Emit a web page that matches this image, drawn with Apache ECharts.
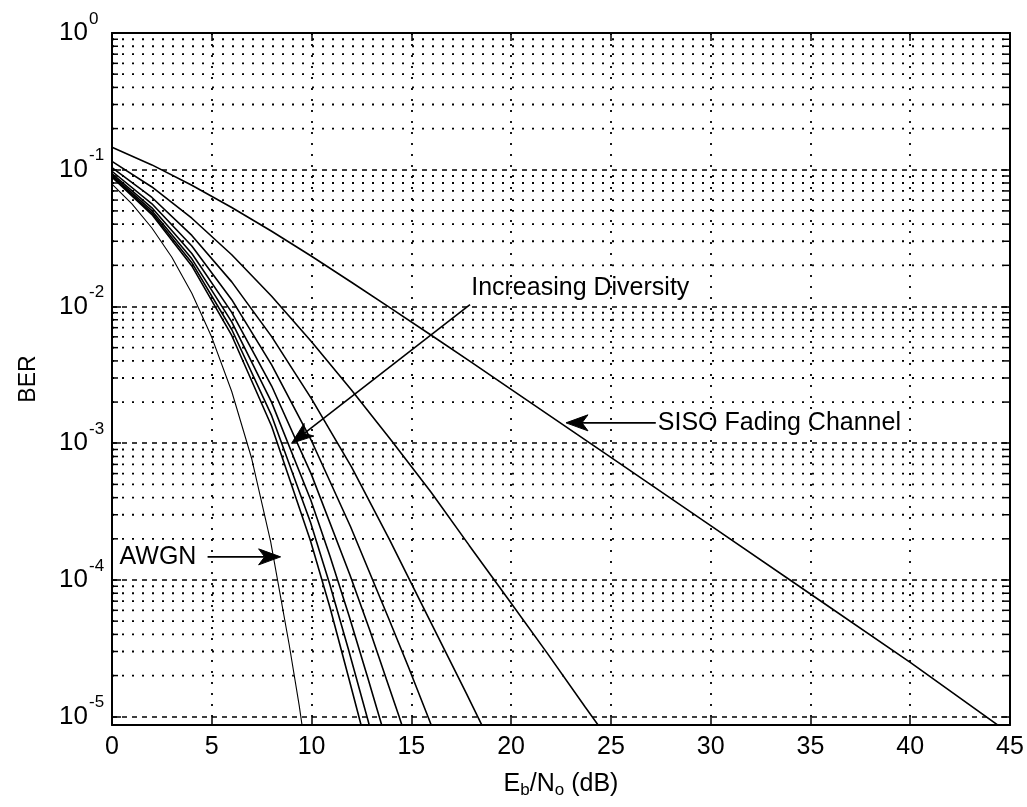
<!DOCTYPE html>
<html>
<head>
<meta charset="utf-8">
<script src="https://cdn.jsdelivr.net/npm/echarts@6/dist/echarts.min.js"></script>
<style>
html,body{margin:0;padding:0;background:#fff;}
#chart{width:1027px;height:807px;}
</style>
</head>
<body>
<div id="chart"></div>
<script>
// ---------- data ----------
const xTicks = [0, 5, 10, 15, 20, 25, 30, 35, 40, 45];
const yDecades = [1e-5, 1e-4, 1e-3, 1e-2, 1e-1, 1];
const yDecadeExp = ['-5', '-4', '-3', '-2', '-1', '0'];
const yMinorGrid = [
  2e-5,3e-5,4e-5,5e-5,6e-5,7e-5,8e-5,9e-5,
  2e-4,3e-4,4e-4,5e-4,6e-4,7e-4,8e-4,9e-4,
  2e-3,3e-3,4e-3,5e-3,6e-3,7e-3,8e-3,9e-3,
  2e-2,3e-2,4e-2,5e-2,6e-2,7e-2,8e-2,9e-2,
  0.2,0.3,0.4,0.5,0.6,0.7,0.8,0.9
];

const xSISO = [0,2,4,6,8,10,12,14,16,18,20,25,30,35,40,45];
const ySISO = [0.146,0.1085,0.0771,0.0530,0.0355,0.0233,0.01505,0.00966,0.00616,0.00392,0.00248,7.87e-4,2.50e-4,7.9e-5,2.5e-5,7.5e-6];

const xAWGN = [0,1,2,3,4,5,6,7,7.95,8.88,9.38,9.87];
const yAWGN = [0.0786,0.0563,0.0375,0.0229,0.0125,0.00595,0.00239,7.73e-4,1.91e-4,3.36e-5,1.21e-5,3.87e-6];

const xDiv2 = [0,2,4,6,8,10,12,14,16,17.9,19.85,21.8,23.72,24.7];
const yDiv2 = [0.1151,0.0748,0.0442,0.0239,0.01187,0.00553,0.00245,1.046e-3,4.36e-4,1.79e-4,7.26e-5,2.93e-5,1.173e-5,7.42e-6];

const xDiv3 = [0,2,4,6,8,10,12,13.9,15.8,17.75,18.72];
const yDiv3 = [0.1035,0.0627,0.0331,0.01514,0.00602,0.00211,6.72e-4,1.98e-4,5.52e-5,1.49e-5,7.64e-6];

const xDiv4 = [0,2,4,6,8,10,11.95,13.88,14.87,15.85,16.35];
const yDiv4 = [0.0975,0.0564,0.0277,0.01122,0.00374,1.039e-3,2.46e-4,5.16e-5,2.28e-5,9.87e-6,6.4e-6];

const xDiv5 = [0,2,4,6,8,9.98,11.92,12.9,13.87,14.37,14.87];
const yDiv5 = [0.0938,0.0527,0.0244,0.00905,0.00262,5.97e-4,1.092e-4,4.36e-5,1.67e-5,1.02e-5,6.1e-6];

const xDiv6 = [0,2,4,6,8,9.97,10.92,11.87,12.82,13.3,13.8];
const yDiv6 = [0.0914,0.0502,0.0223,0.00771,0.00199,3.81e-4,1.50e-4,5.53e-5,1.92e-5,1.11e-5,6.3e-6];

const xDiv7 = [0,2,4,6,8,9.95,10.9,11.85,12.82,13.32];
const yDiv7 = [0.0896,0.0484,0.0209,0.00679,0.00159,2.63e-4,9.41e-5,3.10e-5,9.5e-6,5.1e-6];

const xDiv8 = [0,2,4,6,8,9.95,10.92,11.88,12.38,12.88];
const yDiv8 = [0.0882,0.0470,0.0198,0.00614,0.00133,1.93e-4,6.31e-5,1.88e-5,9.92e-6,5.2e-6];

// annotation texts and their anchor points (data coordinates)
const annoTexts = ['Increasing Diversity', 'SISO Fading Channel', 'AWGN'];
const annoTextAt = [[18.0, 0.0137], [27.35, 1.41e-3], [0.38, 1.476e-4]];
const annoArrowFrom = [[17.94, 0.0103], [27.25, 1.41e-3], [4.79, 1.476e-4]];
const annoArrowTo = [[9.0, 1.0e-3], [22.75, 1.41e-3], [8.45, 1.476e-4]];

// ---------- chart ----------
const FONT = '"Liberation Sans", Arial, Helvetica, sans-serif';
const pairs = (xs, ys) => xs.map((x, i) => [x, ys[i]]);

const curves = [
  {name: 'SISO', x: xSISO, y: ySISO, w: 1.6},
  {name: 'AWGN', x: xAWGN, y: yAWGN, w: 1.1},
  {name: 'Div2', x: xDiv2, y: yDiv2, w: 1.6},
  {name: 'Div3', x: xDiv3, y: yDiv3, w: 1.6},
  {name: 'Div4', x: xDiv4, y: yDiv4, w: 1.6},
  {name: 'Div5', x: xDiv5, y: yDiv5, w: 1.6},
  {name: 'Div6', x: xDiv6, y: yDiv6, w: 1.6},
  {name: 'Div7', x: xDiv7, y: yDiv7, w: 1.6},
  {name: 'Div8', x: xDiv8, y: yDiv8, w: 1.6}
];

const chart = echarts.init(document.getElementById('chart'), null, {renderer: 'canvas'});

const axisLineStyle = {color: '#000', width: 2};

const series = curves.map(c => ({
  type: 'line',
  name: c.name,
  data: pairs(c.x, c.y),
  showSymbol: false,
  symbol: 'none',
  clip: true,
  z: 5,
  lineStyle: {color: '#000', width: c.w},
  silent: true
}));

series.unshift({
  type: 'custom',
  name: 'minorGrid',
  xAxisIndex: 0,
  yAxisIndex: 0,
  silent: true,
  z: 1,
  data: yMinorGrid.map(v => [0, v]),
  renderItem: function (params, api) {
    const p = api.coord([0, api.value(1)]);
    const cs = params.coordSys;
    return {
      type: 'group',
      children: [
        {type: 'line', shape: {x1: cs.x, y1: p[1], x2: cs.x + cs.width, y2: p[1]},
         style: {stroke: '#000', lineWidth: 1.8, lineDash: [2, 8]}},
        {type: 'line', shape: {x1: cs.x, y1: p[1], x2: cs.x + 6, y2: p[1]},
         style: {stroke: '#000', lineWidth: 1.5}},
        {type: 'line', shape: {x1: cs.x + cs.width - 6, y1: p[1], x2: cs.x + cs.width, y2: p[1]},
         style: {stroke: '#000', lineWidth: 1.5}}
      ]
    };
  }
});

chart.setOption({
  animation: false,
  backgroundColor: '#fff',
  textStyle: {fontFamily: FONT, color: '#000'},
  grid: {left: 112, right: 17, top: 33, bottom: 82, containLabel: false},
  xAxis: [
    {
      type: 'value', min: xTicks[0], max: xTicks[xTicks.length - 1], interval: 5,
      position: 'bottom',
      axisLine: {onZero: false, lineStyle: axisLineStyle},
      axisTick: {inside: true, length: 8, lineStyle: {color: '#000', width: 1.5}},
      axisLabel: {fontSize: 25, color: '#000', margin: 10, fontFamily: FONT},
      splitLine: {show: true, lineStyle: {color: '#000', width: 1.8, type: [2, 9]}},
      name: '{n|E}{d|b}{n|/N}{d|o}{n| (dB)}',
      nameLocation: 'middle',
      nameGap: 44,
      nameTextStyle: {
        rich: {
          n: {fontSize: 25, lineHeight: 30, fontFamily: FONT, color: '#000'},
          d: {fontSize: 17, lineHeight: 10, verticalAlign: 'bottom', fontFamily: FONT, color: '#000'}
        }
      }
    },
    {
      type: 'value', min: xTicks[0], max: xTicks[xTicks.length - 1], interval: 5,
      position: 'top',
      axisLine: {onZero: false, lineStyle: axisLineStyle},
      axisTick: {inside: true, length: 8, lineStyle: {color: '#000', width: 1.5}},
      axisLabel: {show: false},
      splitLine: {show: false}
    }
  ],
  yAxis: [
    {
      type: 'log', logBase: 10, min: 8.7e-6, max: 1,
      position: 'left',
      axisLine: {onZero: false, lineStyle: axisLineStyle},
      axisTick: {inside: true, length: 9, lineStyle: {color: '#000', width: 1.5}},
      axisLabel: {show: false},
      splitLine: {show: true, lineStyle: {color: '#000', width: 1.5, type: [5, 5]}},
      name: 'BER',
      nameLocation: 'middle',
      nameGap: 72,
      nameTextStyle: {fontSize: 23, fontFamily: FONT, color: '#000'}
    },
    {
      type: 'log', logBase: 10, min: 8.7e-6, max: 1,
      position: 'right',
      axisLine: {onZero: false, lineStyle: axisLineStyle},
      axisTick: {inside: true, length: 9, lineStyle: {color: '#000', width: 1.5}},
      axisLabel: {show: false},
      splitLine: {show: false}
    }
  ],
  series: series
});

// ---------- y tick labels with superscript exponents (placed through the y scale) ----------
const graphics = [];
yDecades.forEach((v, i) => {
  const p = chart.convertToPixel({xAxisIndex: 0, yAxisIndex: 0}, [0, v]);
  graphics.push({
    type: 'text', x: p[0] - 24, y: p[1], z: 20,
    style: {text: '10', fontSize: 26, fontFamily: FONT, fill: '#000', align: 'right', verticalAlign: 'middle'}
  });
  graphics.push({
    type: 'text', x: p[0] - 23, y: p[1] - 14, z: 20,
    style: {text: yDecadeExp[i], fontSize: 17, fontFamily: FONT, fill: '#000', align: 'left', verticalAlign: 'middle'}
  });
});

// ---------- annotations (placed through the axes' scales) ----------
function arrowHead(tip, from, len, half, notch) {
  const dx = tip[0] - from[0], dy = tip[1] - from[1];
  const d = Math.sqrt(dx * dx + dy * dy);
  const ux = dx / d, uy = dy / d, nx = -uy, ny = ux;
  const bx = tip[0] - ux * len, by = tip[1] - uy * len;
  return [
    [tip[0], tip[1]],
    [bx + nx * half, by + ny * half],
    [tip[0] - ux * (len - notch), tip[1] - uy * (len - notch)],
    [bx - nx * half, by - ny * half]
  ];
}

annoTexts.forEach((t, i) => {
  const tp = chart.convertToPixel({gridIndex: 0}, annoTextAt[i]);
  const fp = chart.convertToPixel({gridIndex: 0}, annoArrowFrom[i]);
  const ep = chart.convertToPixel({gridIndex: 0}, annoArrowTo[i]);
  graphics.push({
    type: 'text', x: tp[0], y: tp[1], z: 20,
    style: {text: t, fontSize: 25, fontFamily: FONT, fill: '#000', verticalAlign: 'middle', align: 'left'}
  });
  const pts = arrowHead(ep, fp, 22, 8, 6);
  graphics.push({
    type: 'line', z: 20,
    shape: {x1: fp[0], y1: fp[1], x2: pts[2][0], y2: pts[2][1]},
    style: {stroke: '#000', lineWidth: 1.6}
  });
  graphics.push({
    type: 'polygon', z: 20,
    shape: {points: pts},
    style: {fill: '#000', stroke: '#000', lineWidth: 1}
  });
});
chart.setOption({graphic: graphics});
</script>
</body>
</html>
